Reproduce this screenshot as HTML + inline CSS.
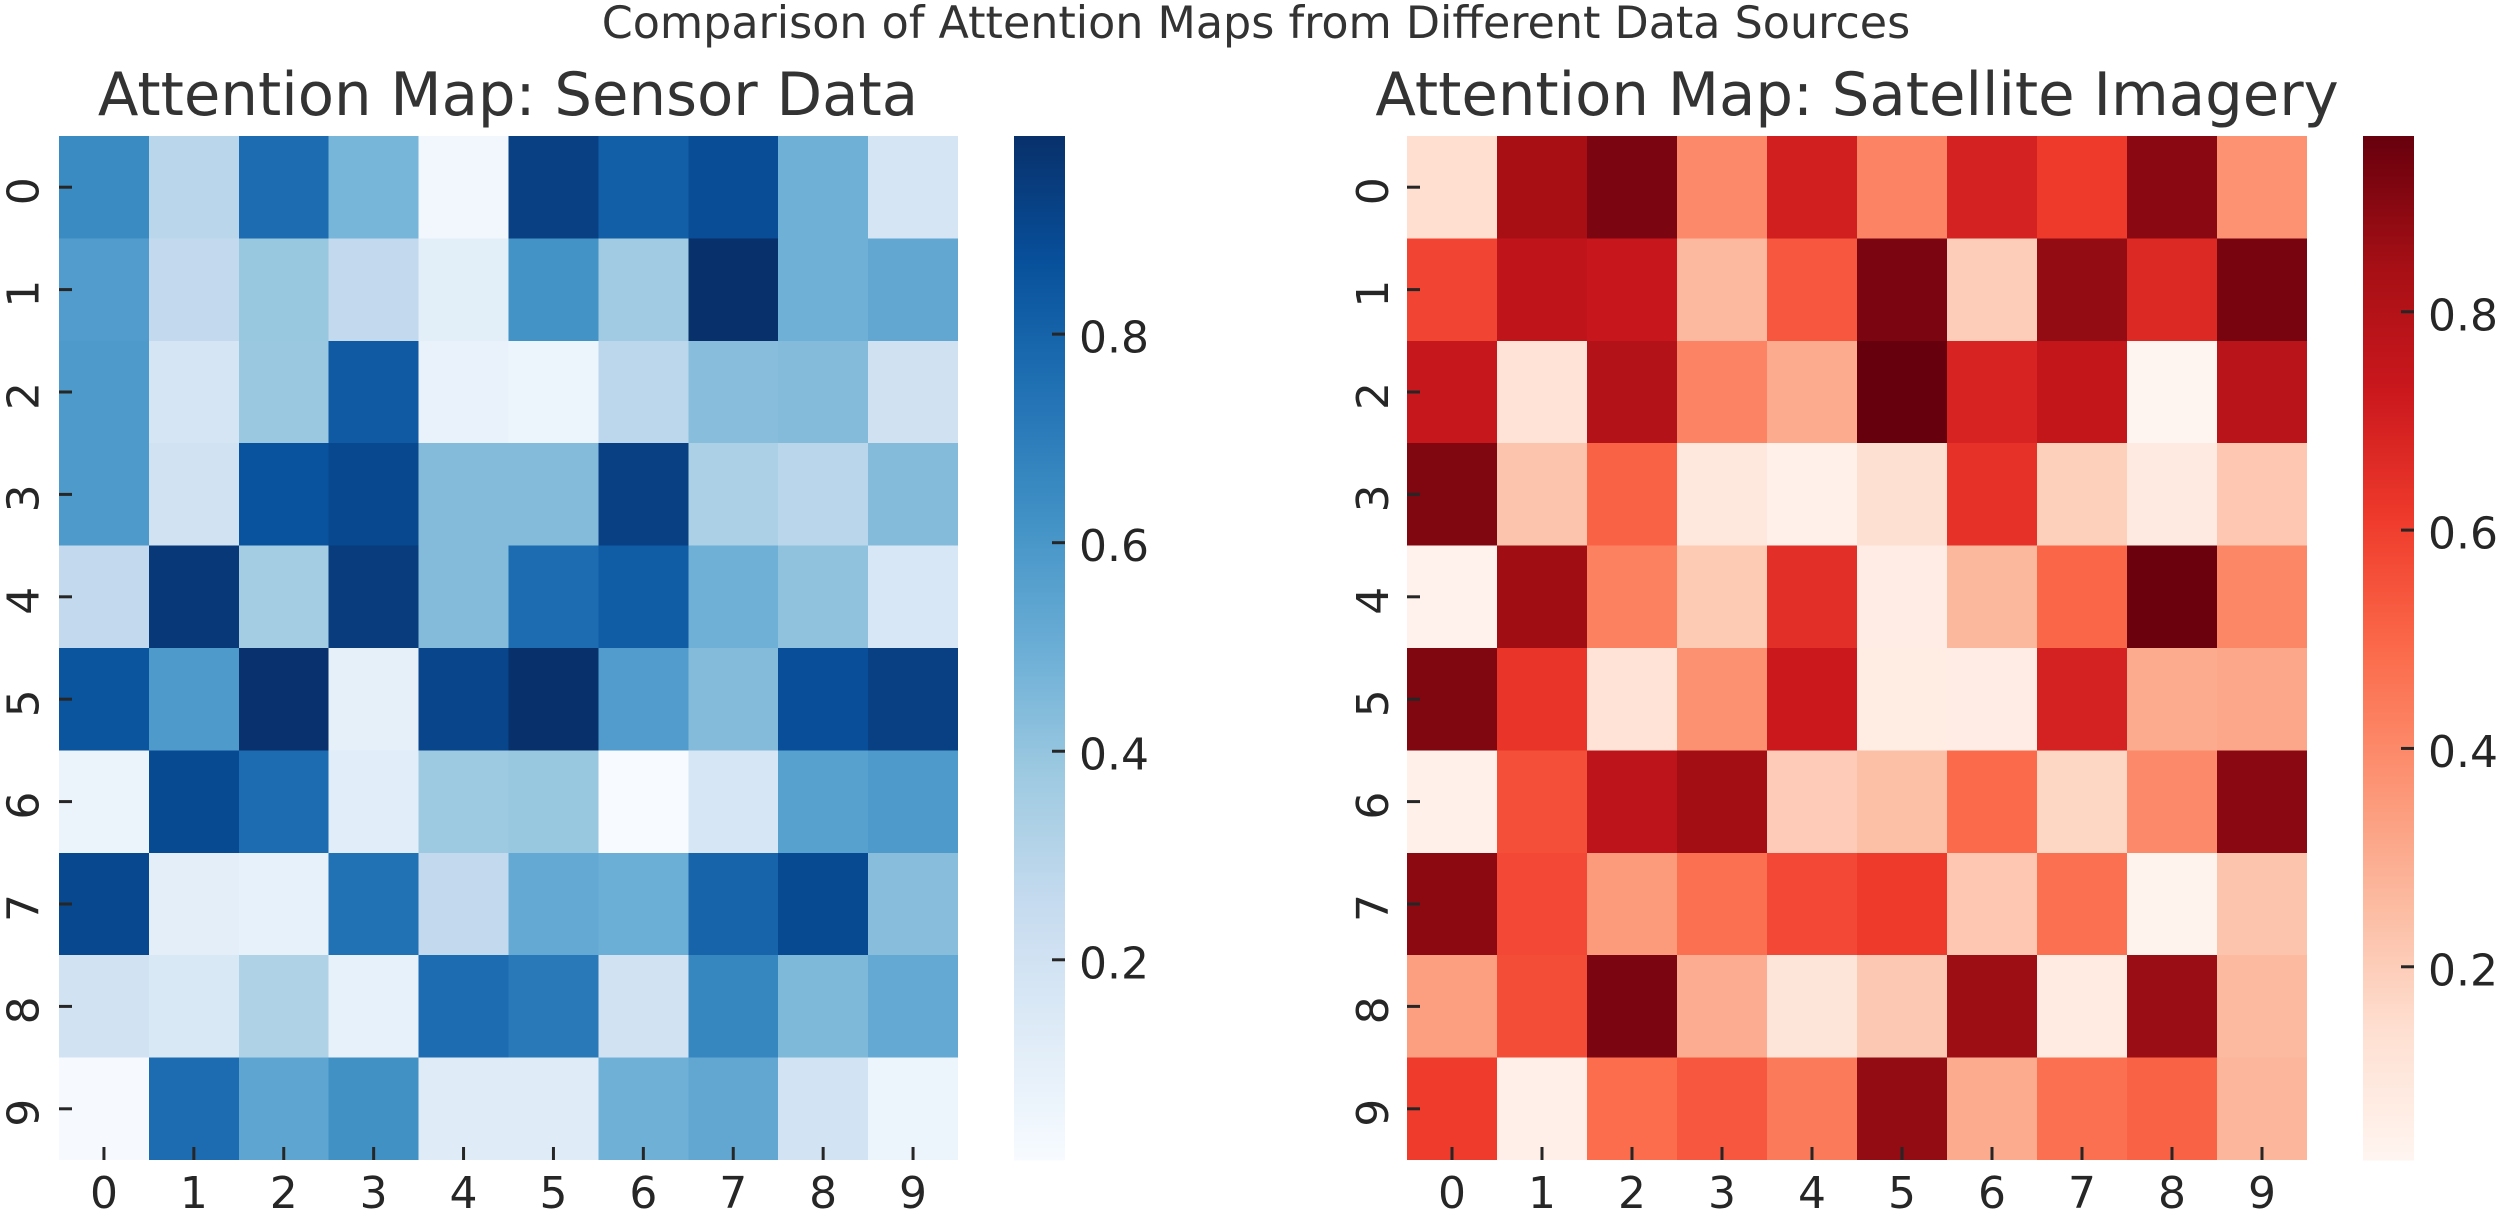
<!DOCTYPE html>
<html lang="en">
<head>
<meta charset="utf-8">
<title>Comparison of Attention Maps from Different Data Sources</title>
<style>
html,body{margin:0;padding:0;background:#fff;width:2500px;height:1215px;overflow:hidden}
svg{display:block}
text{font-family:"DejaVu Sans","Liberation Sans",sans-serif;fill:#262626}
</style>
</head>
<body>
<svg id="chart" xmlns="http://www.w3.org/2000/svg" width="2500" height="1215" viewBox="0 0 2500 1215">
<rect x="0" y="0" width="2500" height="1215" fill="#ffffff"/>
<text x="1256" y="38" font-size="44.4" text-anchor="middle" style="fill:#333">Comparison of Attention Maps from Different Data Sources</text>
<text x="508" y="115" font-size="59.3" text-anchor="middle" style="fill:#333">Attention Map: Sensor Data</text>
<text x="1857" y="115" font-size="59.3" text-anchor="middle" style="fill:#333">Attention Map: Satellite Imagery</text>
<g id="sensor-panel"></g>
<g id="satellite-panel"></g>
</svg>
<script>
const categories = ['0','1','2','3','4','5','6','7','8','9'];
const colorbarTicks = [0.2,0.4,0.6,0.8];
const sensorValues = [
[.646,.293,.764,.470,.037,.931,.813,.882,.489,.175],
[.578,.263,.391,.263,.111,.617,.371,.990,.489,.528],
[.587,.175,.386,.833,.077,.057,.283,.430,.440,.204],
[.587,.195,.862,.902,.440,.440,.931,.332,.293,.440],
[.263,.960,.357,.946,.440,.764,.823,.489,.411,.165],
[.852,.587,.985,.096,.911,.990,.578,.440,.877,.931],
[.067,.892,.764,.116,.376,.391,.008,.170,.558,.587],
[.902,.106,.087,.745,.263,.519,.499,.794,.892,.430],
[.195,.155,.322,.087,.764,.715,.195,.666,.450,.519],
[.013,.764,.538,.627,.126,.126,.489,.528,.190,.057]
];
const satelliteValues = [
[.145,.839,.924,.398,.708,.417,.698,.614,.895,.375],
[.586,.764,.736,.262,.539,.924,.201,.877,.670,.928],
[.741,.126,.802,.417,.304,.961,.689,.755,.023,.783],
[.914,.229,.511,.103,.051,.140,.642,.192,.084,.220],
[.037,.853,.426,.211,.651,.065,.267,.501,.952,.408],
[.914,.633,.126,.379,.727,.075,.065,.698,.304,.314],
[.050,.558,.773,.848,.206,.243,.492,.173,.398,.895],
[.891,.576,.351,.473,.576,.614,.220,.473,.032,.229],
[.337,.567,.924,.300,.111,.215,.858,.080,.863,.258],
[.609,.055,.483,.539,.445,.877,.304,.473,.511,.272]
];
const bluesStops = ['#f7fbff','#deebf7','#c6dbef','#9ecae1','#6baed6','#4292c6','#2171b5','#08519c','#08306b'];
const redsStops = ['#fff5f0','#fee0d2','#fcbba1','#fc9272','#fb6a4a','#ef3b2c','#cb181d','#a50f15','#67000d'];

const NS = 'http://www.w3.org/2000/svg';
const TOP = 136, BOTTOM = 1160, TICK = 13;

function hexRgb(h){ return [1,3,5].map(i => parseInt(h.substr(i,2),16)); }
function colormap(stops, t){
  t = Math.max(0, Math.min(1, t));
  const p = t * (stops.length - 1), i = Math.min(Math.floor(p), stops.length - 2), f = p - i;
  const a = hexRgb(stops[i]), b = hexRgb(stops[i + 1]);
  return 'rgb(' + a.map((v, k) => Math.round(v + (b[k] - v) * f)).join(',') + ')';
}
function shape(parent, tag, attrs){
  const el = document.createElementNS(NS, tag);
  for (const k in attrs) el.setAttribute(k, attrs[k]);
  parent.appendChild(el);
  return el;
}
function drawPanel(cfg){
  const g = document.getElementById(cfg.id);
  const vals = cfg.values, n = categories.length;
  const flat = vals.reduce((a, r) => a.concat(r), []);
  const vmin = Math.min.apply(null, flat), vmax = Math.max.apply(null, flat);
  const xAt = i => cfg.x0 + (cfg.x1 - cfg.x0) * i / n;
  const yAt = i => TOP + (BOTTOM - TOP) * i / n;
  const norm = v => (v - vmin) / (vmax - vmin);
  const cbY = v => BOTTOM - (BOTTOM - TOP) * norm(v);

  vals.forEach((row, r) => row.forEach((v, c) => {
    const cell = shape(g, 'rect', {x: xAt(c), y: yAt(r), width: xAt(c + 1) - xAt(c), height: yAt(r + 1) - yAt(r), fill: colormap(cfg.stops, norm(v)), 'shape-rendering': 'crispEdges'});
    
    
  }));

  categories.forEach((label, i) => {
    const cx = (xAt(i) + xAt(i + 1)) / 2, cy = (yAt(i) + yAt(i + 1)) / 2;
    const xt = shape(g, 'line', {x1: cx, x2: cx, y1: BOTTOM - TICK, y2: BOTTOM, stroke: '#262626', 'stroke-width': 3});
    
    
    const xl = shape(g, 'text', {x: cx, y: 1208, 'font-size': 44, 'text-anchor': 'middle'});
    xl.textContent = label;
    
    
    const yt = shape(g, 'line', {x1: cfg.x0, x2: cfg.x0 + TICK, y1: cy, y2: cy, stroke: '#262626', 'stroke-width': 3});
    
    
    const yl = shape(g, 'text', {x: 0, y: 0, 'font-size': 44, 'text-anchor': 'middle', transform: 'translate(' + cfg.yLabelX + ' ' + (cy + 4) + ') rotate(-90)'});
    yl.textContent = label;
    
    
  });

  const bands = 256;
  for (let b = 0; b < bands; b++) {
    const y1 = BOTTOM - (BOTTOM - TOP) * b / bands, y2 = BOTTOM - (BOTTOM - TOP) * (b + 1) / bands;
    const band = shape(g, 'rect', {x: cfg.cb0, y: y2, width: cfg.cb1 - cfg.cb0, height: y1 - y2 + 0.5, fill: colormap(cfg.stops, (b + 0.5) / bands), 'shape-rendering': 'crispEdges'});
    
    
  }
  colorbarTicks.forEach(v => {
    const y = cbY(v);
    const t = shape(g, 'line', {x1: cfg.cb1 - TICK, x2: cfg.cb1, y1: y, y2: y, stroke: '#262626', 'stroke-width': 3});
    
    
    const l = shape(g, 'text', {x: cfg.cb1 + 14, y: y + 18.5, 'font-size': 44});
    l.textContent = v.toFixed(1);
    
    
  });
}
drawPanel({id: 'sensor-panel', values: sensorValues, stops: bluesStops, x0: 59, x1: 958, cb0: 1014, cb1: 1065, yLabelX: 38.5});
drawPanel({id: 'satellite-panel', values: satelliteValues, stops: redsStops, x0: 1407, x1: 2307, cb0: 2363, cb1: 2414, yLabelX: 1388});
</script>
</body>
</html>
